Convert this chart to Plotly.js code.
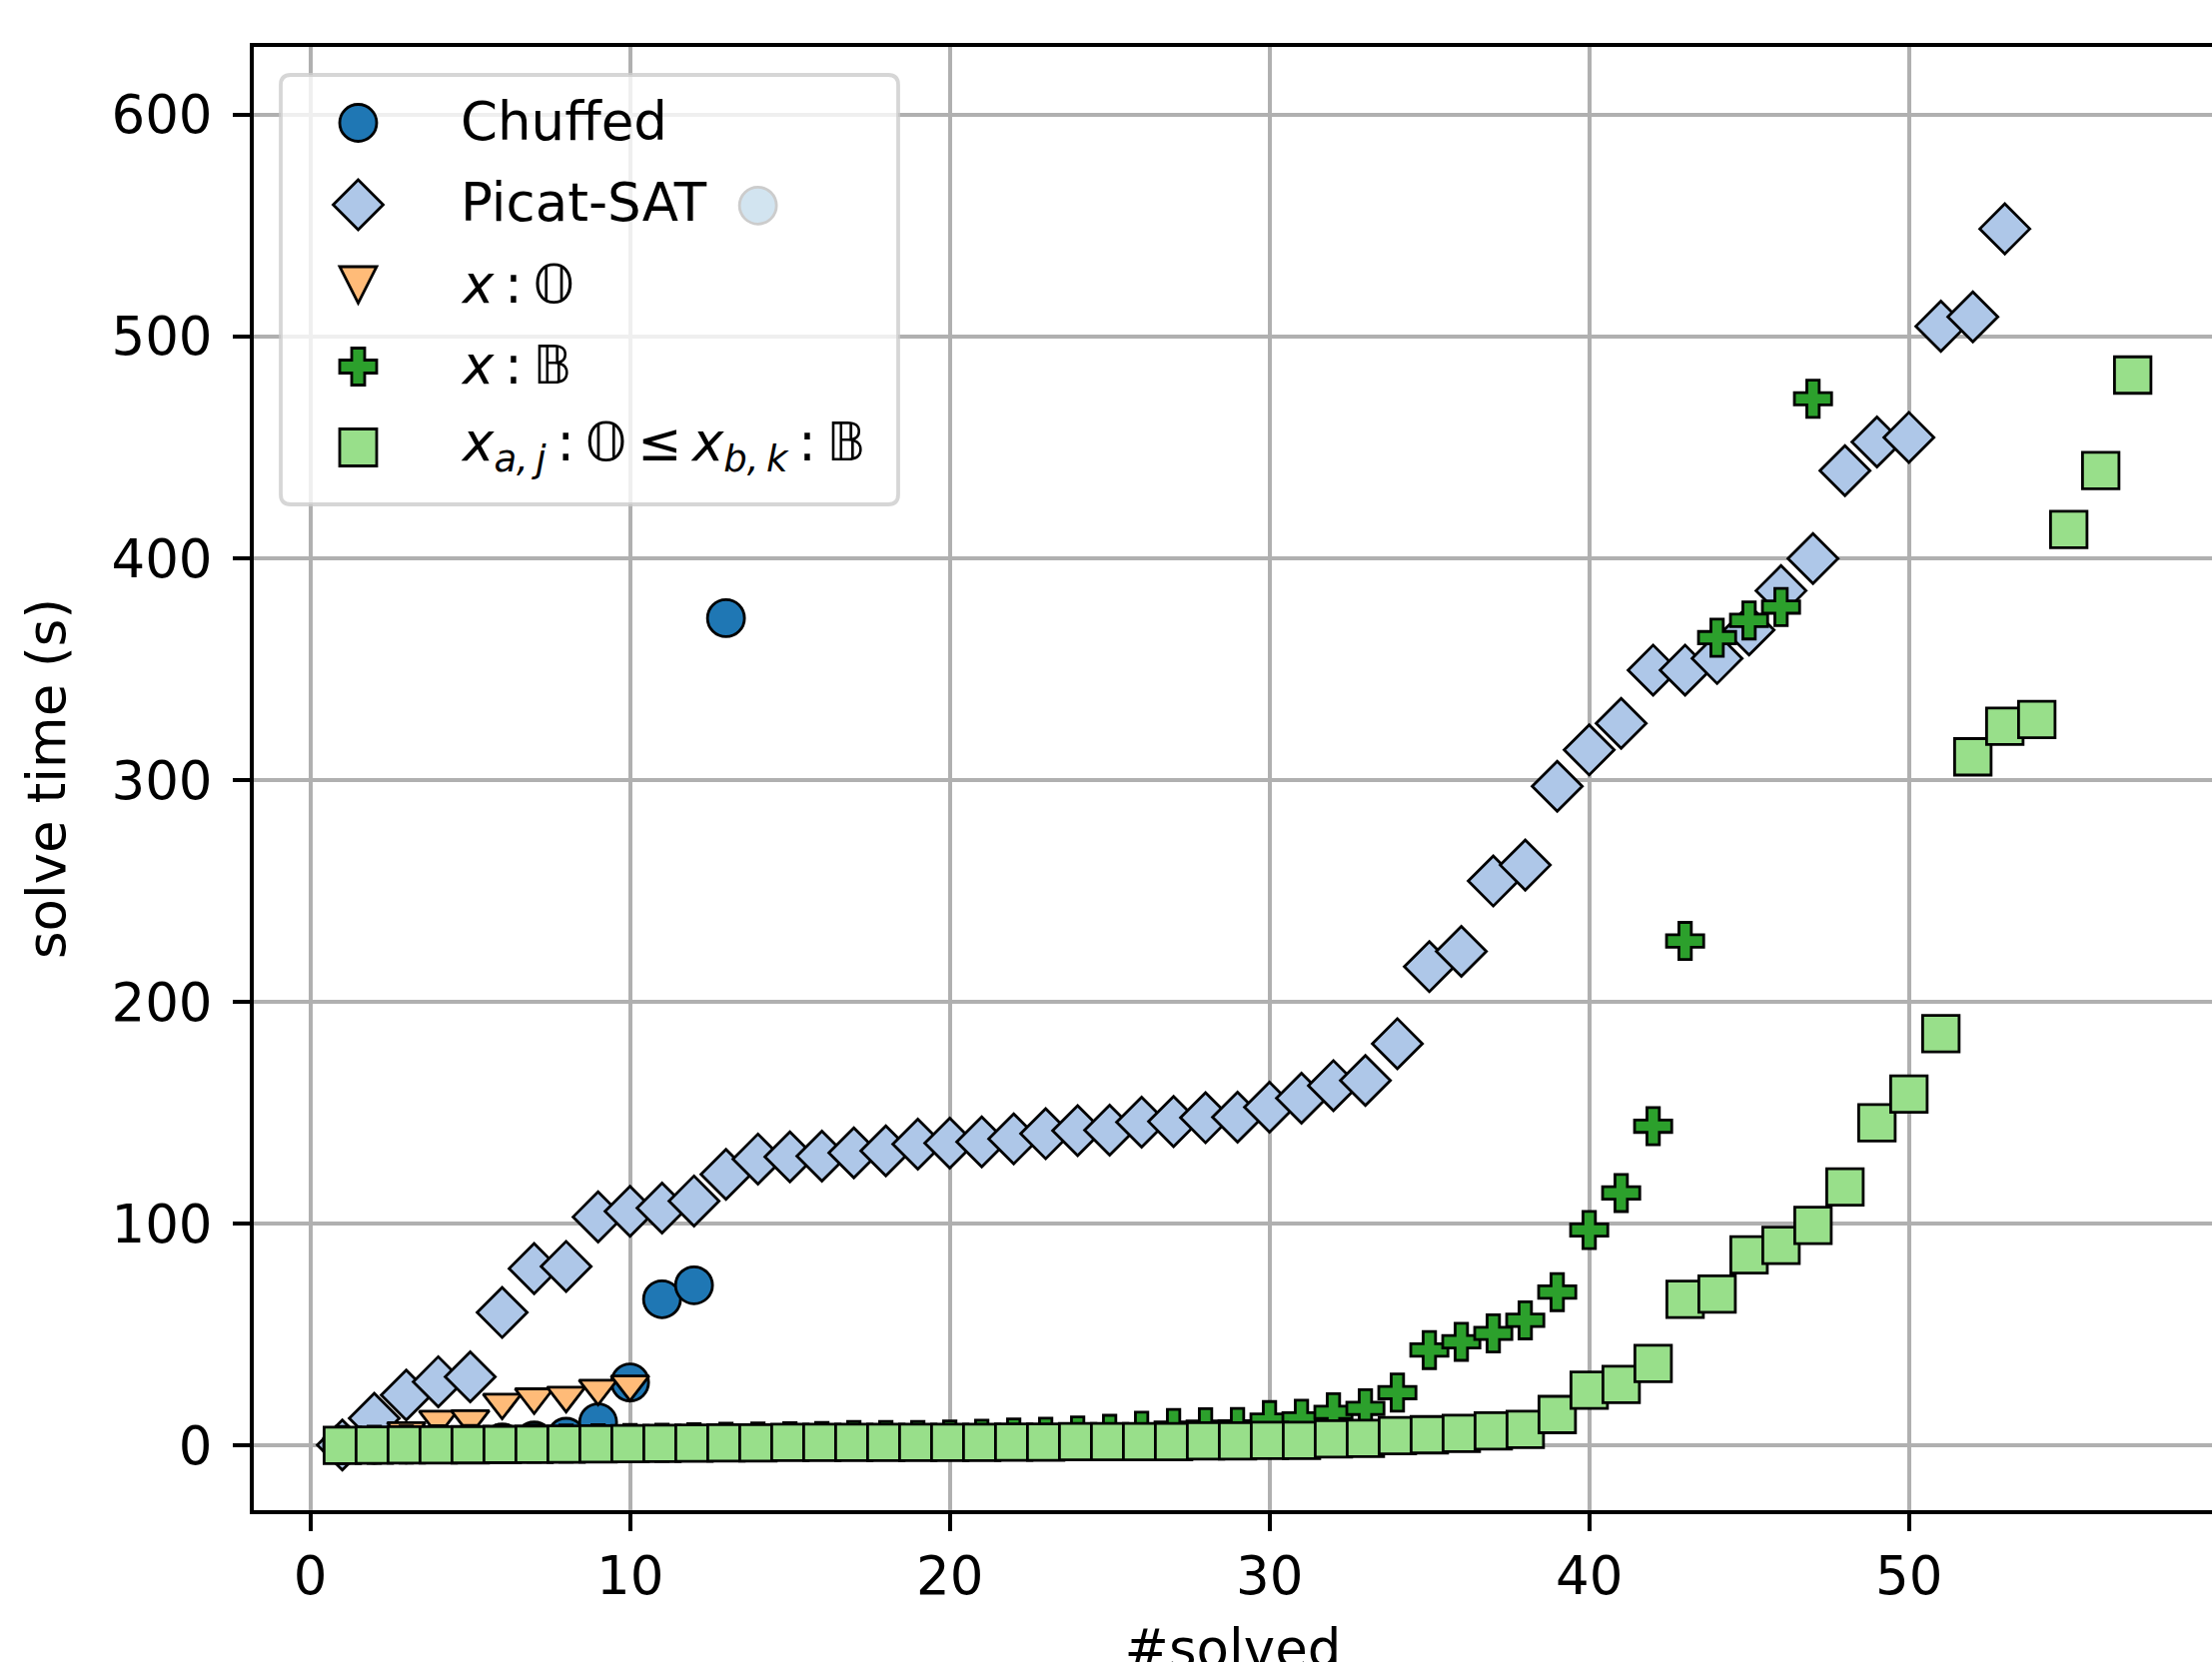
<!DOCTYPE html>
<html>
<head>
<meta charset="utf-8">
<script src="https://cdn.plot.ly/plotly-3.0.1.min.js"></script>
<style>
html, body { margin: 0; padding: 0; background: #ffffff; overflow: hidden; width: 2214px; height: 1664px; }
#chart { width: 2214px; height: 1760px; }
</style>
</head>
<body>
<div id="chart"></div>
<script>
// ---------------- data ----------------
const seriesNames = ['Chuffed', 'Picat-SAT', 'x : O', 'x : B', 'x_aj : O <= x_bk : B'];

const chuffedX = [1, 2, 3, 4, 5, 6, 7, 8, 9, 10, 11, 12, 13, 14];
const chuffedY = [0.3, 0.4, 0.5, 0.6, 0.8, 1.5, 2.3, 4.0, 10.5, 28.5, 66.0, 72.3, 373.0, 559.0];

const picatX = [1, 2, 3, 4, 5, 6, 7, 8, 9, 10, 11, 12, 13, 14, 15, 16, 17, 18, 19, 20,
  21, 22, 23, 24, 25, 26, 27, 28, 29, 30, 31, 32, 33, 34, 35, 36, 37, 38, 39, 40,
  41, 42, 43, 44, 45, 46, 47, 48, 49, 50, 51, 52, 53];
const picatY = [0.3, 12.3, 22.8, 28.8, 31.0, 60.0, 79.8, 80.8, 103.1, 105.6,
  107.1, 110.3, 122.3, 129.2, 130.2, 130.5, 132.0, 132.9, 135.9, 136.4,
  136.9, 138.3, 140.6, 142.0, 142.2, 145.8, 146.1, 147.8, 148.1, 152.6,
  156.6, 162.3, 164.6, 181.2, 215.9, 222.8, 254.5, 261.7, 297.2, 313.6,
  325.6, 349.6, 349.6, 354.8, 367.7, 385.4, 399.9, 439.5, 452.4, 454.5,
  504.6, 508.8, 548.5];

const xOX = [1, 2, 3, 4, 5, 6, 7, 8, 9, 10];
const xOY = [0.3, 0.5, 6.6, 11.8, 12.0, 19.5, 21.9, 22.6, 25.8, 27.7];

const xBX = [1, 2, 3, 4, 5, 6, 7, 8, 9, 10, 11, 12, 13, 14, 15, 16, 17, 18, 19, 20,
  21, 22, 23, 24, 25, 26, 27, 28, 29, 30, 31, 32, 33, 34, 35, 36, 37, 38, 39, 40,
  41, 42, 43, 44, 45, 46, 47];
const xBY = [0.3, 0.4, 0.5, 0.6, 0.7, 0.8, 0.9, 1.0, 1.1, 1.2,
  1.3, 1.5, 1.7, 1.9, 2.0, 2.1, 2.5, 2.5, 2.5, 2.8,
  3.1, 3.7, 4.0, 4.6, 5.3, 6.7, 7.9, 8.3, 8.4, 11.5,
  12.1, 15.0, 16.8, 23.9, 43.1, 46.8, 50.6, 56.5, 69.2, 97.2,
  113.9, 144.0, 227.5, 364.2, 372.0, 378.0, 471.9];

const mixX = [1, 2, 3, 4, 5, 6, 7, 8, 9, 10, 11, 12, 13, 14, 15, 16, 17, 18, 19, 20,
  21, 22, 23, 24, 25, 26, 27, 28, 29, 30, 31, 32, 33, 34, 35, 36, 37, 38, 39, 40,
  41, 42, 43, 44, 45, 46, 47, 48, 49, 50, 51, 52, 53, 54, 55, 56, 57];
const mixY = [0.1, 0.2, 0.3, 0.3, 0.4, 0.5, 0.6, 0.7, 0.8, 0.9,
  1.0, 1.1, 1.2, 1.2, 1.5, 1.5, 1.5, 1.5, 1.5, 1.5,
  1.5, 1.6, 1.6, 1.8, 1.8, 1.8, 1.8, 2.1, 2.1, 2.4,
  2.4, 3.0, 3.3, 4.5, 4.9, 5.5, 6.6, 7.3, 14.0, 25.0,
  27.6, 37.0, 66.0, 68.3, 86.0, 90.3, 99.3, 116.6, 145.5, 158.5,
  185.7, 310.5, 324.3, 327.3, 413.0, 439.5, 482.6];

const xTicks = [0, 10, 20, 30, 40, 50];
const yTicks = [0, 100, 200, 300, 400, 500, 600];

// legend labels (rich text)
const TS = '\u2009'; // thin space
const legendLabels = [
  'Chuffed',
  'Picat-SAT',
  '<i>x</i>' + TS + ':' + TS + '<i>\u{1D546}</i>',
  '<i>x</i>' + TS + ':' + TS + '<i>\u{1D539}</i>',
  '<i>x</i><sub><i>a,' + TS + 'j</i></sub>' + TS + ':' + TS + '<i>\u{1D546}</i>' + TS + '\u2264' + TS +
    '<i>x</i><sub><i>b,' + TS + 'k</i></sub>' + TS + ':' + TS + '<i>\u{1D539}</i>'
];

// ---------------- styles ----------------
const FONT = 'DejaVu Sans';
const FS = 53;
const colors = ['#1f77b4', '#aec7e8', '#ffbb78', '#2ca02c', '#98df8a'];
const EDGE = { color: '#000000', width: 2.8 };

function scatter(x, y, name, symbol, size, color) {
  return {
    type: 'scatter', mode: 'markers', x: x, y: y, name: name,
    marker: { symbol: symbol, size: size, color: color, line: EDGE },
    cliponaxis: false, hoverinfo: 'x+y+name'
  };
}

const traces = [
  scatter(chuffedX, chuffedY, seriesNames[0], 'circle', 37, colors[0]),
  scatter(picatX, picatY, seriesNames[1], 'diamond', 38.5, colors[1]),
  scatter(xOX, xOY, seriesNames[2], 'triangle-down', 33, colors[2]),
  scatter(xBX, xBY, seriesNames[3], 'cross', 31, colors[3]),
  scatter(mixX, mixY, seriesNames[4], 'square', 36.5, colors[4])
];

// ---------------- geometry ----------------
// the figure is taller than the 1664 px window: the x-axis title is cut at the
// bottom edge, as in the reference
const WIDTH = 2214, HEIGHT = 1760;
const ML = 254, MR = 0, MT = 47, MB = 248;
const PW = WIDTH - ML - MR, PH = HEIGHT - MT - MB;
const px2x = p => (p - ML) / PW;
const py2y = p => (MT + PH - p) / PH;

// custom legend (box, symbols, labels) drawn in pixel units
const legBox = { cx: 590, cy: 290, w: 618, h: 430, r: 10 };
const legSymX = 358.5;
const legTextX = 459;
const legRowY = [121, 203, 284, 366, 447];
const legSymRowY = [123, 205, 285, 367, 448];

function roundRectPath(w, h, r) {
  const a = w / 2, b = h / 2;
  return `M ${-a + r},${b} L ${a - r},${b} Q ${a},${b} ${a},${b - r} L ${a},${-b + r} ` +
         `Q ${a},${-b} ${a - r},${-b} L ${-a + r},${-b} Q ${-a},${-b} ${-a},${-b + r} ` +
         `L ${-a},${b - r} Q ${-a},${b} ${-a + r},${b} Z`;
}
const symbolPaths = [
  null,
  'M -25,0 L 0,25 L 25,0 L 0,-25 Z',
  'M -18.5,18 L 18.5,18 L 0,-18.5 Z',
  'M -6.5,18.5 L 6.5,18.5 L 6.5,6.5 L 18.5,6.5 L 18.5,-6.5 L 6.5,-6.5 L 6.5,-18.5 ' +
    'L -6.5,-18.5 L -6.5,-6.5 L -18.5,-6.5 L -18.5,6.5 L -6.5,6.5 Z',
  'M -18.5,18.5 L 18.5,18.5 L 18.5,-18.5 L -18.5,-18.5 Z'
];

const shapes = [];
shapes.push({
  type: 'path', layer: 'above', xref: 'paper', yref: 'paper',
  xsizemode: 'pixel', ysizemode: 'pixel',
  xanchor: px2x(legBox.cx), yanchor: py2y(legBox.cy),
  path: roundRectPath(legBox.w, legBox.h, legBox.r),
  fillcolor: 'rgba(255,255,255,0.8)',
  line: { color: 'rgba(204,204,204,0.8)', width: 3.8 }
});
for (let i = 0; i < seriesNames.length; i++) {
  const base = {
    layer: 'above', xref: 'paper', yref: 'paper',
    xsizemode: 'pixel', ysizemode: 'pixel',
    xanchor: px2x(legSymX), yanchor: py2y(legSymRowY[i]),
    fillcolor: colors[i], line: { color: '#000000', width: 2.8 }
  };
  if (i === 0) {
    shapes.push(Object.assign(base, { type: 'circle', x0: -18.5, x1: 18.5, y0: -18.5, y1: 18.5 }));
  } else {
    shapes.push(Object.assign(base, { type: 'path', path: symbolPaths[i] }));
  }
}
const annotations = legendLabels.map((t, i) => ({
  xref: 'paper', yref: 'paper', x: px2x(legTextX), y: py2y(legRowY[i]),
  xanchor: 'left', yanchor: 'middle', showarrow: false, text: t,
  font: { family: FONT, size: FS, color: '#000000' }
}));

const axisCommon = {
  showgrid: true, gridcolor: '#b0b0b0', gridwidth: 3.8,
  zeroline: false, showline: true, linecolor: '#000000', linewidth: 3.8,
  ticks: 'outside', ticklen: 17, tickwidth: 3.8, tickcolor: '#000000',
  tickfont: { family: FONT, size: FS, color: '#000000' },
  fixedrange: true
};

const layout = {
  width: WIDTH, height: HEIGHT,
  margin: { l: ML, r: MR, t: MT, b: MB, pad: 0 },
  paper_bgcolor: '#ffffff', plot_bgcolor: '#ffffff',
  font: { family: FONT, size: FS, color: '#000000' },
  showlegend: false,
  xaxis: Object.assign({}, axisCommon, {
    automargin: true,
    range: [-1.77, 59.48], tickmode: 'array', tickvals: xTicks,
    ticktext: xTicks.map(String), mirror: true,
    title: { text: '#solved', font: { family: FONT, size: FS, color: '#000000' }, standoff: 25 }
  }),
  yaxis: Object.assign({}, axisCommon, {
    automargin: false,
    range: [-29.1, 630.5], tickmode: 'array', tickvals: yTicks,
    ticktext: yTicks.map(String), mirror: false, ticklabelstandoff: 10,
    title: { text: 'solve time (s)', font: { family: FONT, size: FS, color: '#000000' }, standoff: 30 }
  }),
  shapes: shapes,
  annotations: annotations
};

Plotly.newPlot('chart', traces, layout, { staticPlot: true, displayModeBar: false });
</script>
</body>
</html>
